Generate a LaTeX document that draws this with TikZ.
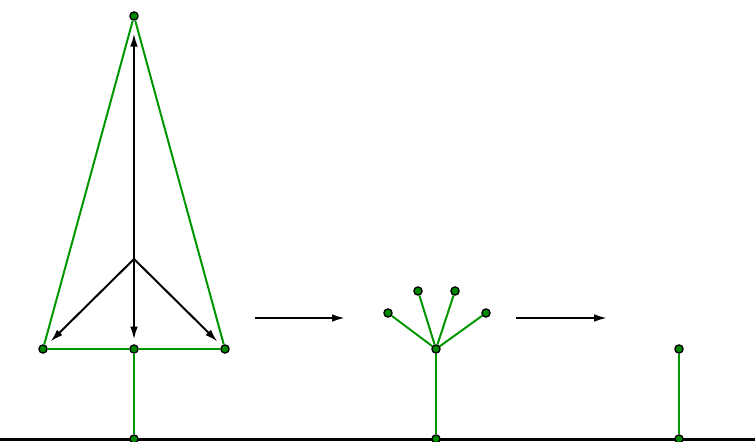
\documentclass[tikz,border=0pt]{standalone}
\usepackage{tikz}
\usetikzlibrary{arrows.meta}
\definecolor{stemgreen}{RGB}{0,150,0}

\begin{document}
\begin{tikzpicture}[x=0.03cm,y=-0.03cm]
		\tikzstyle{vertex}=[draw=black, circle, fill=stemgreen!90!black, line width=1.1pt, inner sep=0pt, minimum size=7pt]
		\tikzstyle{stem}=[draw, line width=1.7pt, stemgreen]
		\tikzstyle{force}=[draw, line width=1.7pt, black, -{Latex[length=11pt,width=6.5pt]}]
		\useasboundingbox (0,0) rectangle (755,441);

		% ground
		\draw[line width=1.9pt] (0,439.5) -- (755,439.5);

		% tall tree
		\node[vertex] (top) at (134,16) {};
		\node[vertex] (lft) at (43,349) {};
		\node[vertex] (mid) at (134,349) {};
		\node[vertex] (rgt) at (225,349) {};
		\node[vertex] (g1) at (134,439) {};
		\coordinate (hub) at (134,259);

		\draw[stem] (lft) -- (top) -- (rgt);
		\draw[stem] (lft) -- (mid) -- (rgt);
		\draw[stem] (mid) -- (g1);

		\draw[force, shorten >=11pt] (hub) -- (top);
		\draw[force, shorten >=4pt] (hub) -- (mid);
		\draw[force, shorten >=5pt] (hub) -- (lft);
		\draw[force, shorten >=5pt] (hub) -- (rgt);

		% bush
		\node[vertex] (root) at (436,349) {};
		\node[vertex] (g2) at (436,439) {};
		\node[vertex] (b1) at (388,313) {};
		\node[vertex] (b2) at (418,291) {};
		\node[vertex] (b3) at (455,291) {};
		\node[vertex] (b4) at (486,313) {};

		\draw[stem] (root) -- (g2);
		\foreach \b in {b1,b2,b3,b4}
			\draw[stem] (root) -- (\b);

		% stump
		\node[vertex] (st) at (679,349) {};
		\node[vertex] (g3) at (679,439) {};
		\draw[stem] (st) -- (g3);

		% steps
		\coordinate (s1) at (255,318);
		\coordinate (e1) at (345,318);
		\coordinate (s2) at (516,318);
		\coordinate (e2) at (607,318);
		\draw[force] (s1) -- (e1);
		\draw[force] (s2) -- (e2);
\end{tikzpicture}
\end{document}
